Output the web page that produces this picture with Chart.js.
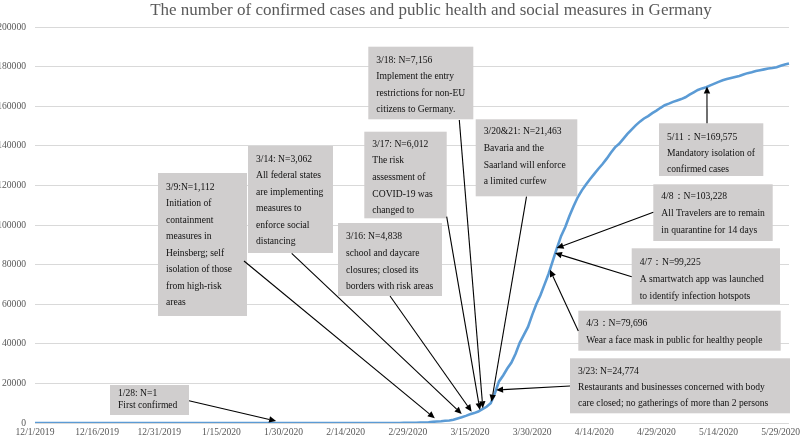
<!DOCTYPE html>
<html>
<head>
<meta charset="utf-8">
<script src="https://cdn.jsdelivr.net/npm/chart.js@4.4.1/dist/chart.umd.min.js"></script>
<style>
html,body{margin:0;padding:0;background:#fff;}
#wrap{width:800px;height:439px;position:relative;}
</style>
</head>
<body>
<div id="wrap"><canvas id="c" width="800" height="439"></canvas></div>
<script>
// ---- data ----
const chartTitle = "The number of confirmed cases and public health and social measures in Germany";
const casesDec = [0,0,0,0,0,0,0,0,0,0,0,0,0,0,0,0,0,0,0,0,0,0,0,0,0,0,0,0,0,0,0];
const casesJan = [0,0,0,0,0,0,0,0,0,0,0,0,0,0,0,0,0,0,0,0,0,0,0,0,0,0,0,1,4,4,5];
const casesFeb = [8,10,12,12,12,12,13,13,14,14,16,16,16,16,16,16,16,16,16,16,16,16,16,16,16,18,26,48,79];
const casesMar = [130,159,196,262,400,600,750,900,1112,1300,1600,2300,2900,3600,4400,5000,5800,7000,8200,10000,15000,21000,24000,27500,30500,35000,40500,44500,48500,54500,60000];
const casesApr = [64500,70000,75500,82000,88400,94500,99000,104500,109500,114000,117500,120500,123200,125800,128400,130800,133500,136500,139200,141000,143500,146000,148200,150300,152200,153800,155000,156500,157800,159200];
const casesMay = [160500,161300,162200,162900,163600,164500,165800,167000,168200,169000,169600,170500,171400,172300,173100,173700,174300,174800,175300,176000,176700,177200,177800,178200,178600,179000,179300,179700,180400,181100,181600];
const monthDays = [[12,2019,31],[1,2020,31],[2,2020,29],[3,2020,31],[4,2020,30],[5,2020,31]];
const categories = [];
monthDays.forEach(([m,y,n])=>{for(let d=1;d<=n;d++)categories.push(m+"/"+d+"/"+y);});
const cases = [].concat(casesDec,casesJan,casesFeb,casesMar,casesApr,casesMay);
const yTicks = [0,20000,40000,60000,80000,100000,120000,140000,160000,180000,200000];
const xLabelEvery = 15;

// annotation texts and the (date index, value) each arrow points to
const noteTexts = [
  ["1/28: N=1","First confirmed"],
  ["3/9:N=1,112","Initiation of","containment","measures in","Heinsberg; self","isolation of those","from high-risk","areas"],
  ["3/14: N=3,062","All federal states","are implementing","measures to","enforce social","distancing"],
  ["3/16: N=4,838","school and daycare","closures; closed its","borders with risk areas"],
  ["3/17: N=6,012","The risk","assessment of","COVID-19 was","changed to"],
  ["3/18: N=7,156","Implement the entry","restrictions for non-EU","citizens to Germany."],
  ["3/20&21: N=21,463","Bavaria and the","Saarland will enforce","a limited curfew"],
  ["3/23: N=24,774","Restaurants and businesses concerned with body","care closed; no gatherings of more than 2 persons"],
  ["4/3：N=79,696","Wear a face mask in public for healthy people"],
  ["4/7：N=99,225","A smartwatch app was launched","to identify infection hotspots"],
  ["4/8：N=103,228","All Travelers are to remain","in quarantine for 14 days"],
  ["5/11：N=169,575","Mandatory isolation of","confirmed cases"]
];
const noteTipDay   = [58.2, 96.5, 103.0, 105.4, 107.4, 108.1, 110.2, 111.3, 124.3, 125.5, 125.9, 162.2];
const noteTipValue = [1000, 2377, 4551, 5714, 6574, 7434, 10771, 16688, 77372, 85818, 88347, 169915];

// ---- layout of annotation boxes (pixels) ----
const noteLayout = [
  {box:[110,385,79,30],    y0:393.3, lh:11.7, tail:[189,400.7]},
  {box:[158,173,89,143],   y0:187.3, lh:16.5, tail:[244,261]},
  {box:[248,146,85,107],   y0:159.3, lh:16.5, tail:[291.7,253.3]},
  {box:[338,223,104,73],   y0:236.7, lh:16.7, tail:[390,296]},
  {box:[364.3,131.7,82.4,86.6], y0:144.3, lh:16.6, tail:[446.7,216.7]},
  {box:[368.3,46.7,105,72.6],   y0:60,    lh:16.5, tail:[459.3,120]},
  {box:[475.7,119.3,101.6,77],  y0:131.7, lh:16.7, tail:[526.5,196.7]},
  {box:[570,358.3,220,55],      y0:371,   lh:16.3, tail:[570,386]},
  {box:[578.3,310.7,202.4,40],  y0:323.3, lh:16.7, tail:[578.3,331]},
  {box:[631.7,248.3,148.3,55.7],y0:262.7, lh:17,   tail:[631.7,276.7]},
  {box:[653.3,184.3,119.4,56.7],y0:196.7, lh:17,   tail:[653.3,212.3]},
  {box:[659,123.3,104.3,52.7],  y0:137.3, lh:16,   tail:[707,123.3]}
];

const FONT = "'Liberation Serif','Times New Roman',serif";

const notesPlugin = {
  id:'notes',
  afterDatasetsDraw(chart){
    const ctx = chart.ctx;
    const xs = chart.scales.x, ys = chart.scales.y;
    ctx.save();
    // boxes + text
    noteLayout.forEach((L,i)=>{
      const [bx,by,bw,bh] = L.box;
      ctx.fillStyle = '#d0cece';
      ctx.fillRect(bx,by,bw,bh);
      ctx.fillStyle = '#111';
      ctx.font = "9.6px " + FONT;
      ctx.textBaseline = 'middle';
      ctx.textAlign = 'left';
      noteTexts[i].forEach((t,j)=>ctx.fillText(t, bx+8, L.y0 + j*L.lh));
    });
    // arrows
    noteLayout.forEach((L,i)=>{
      const [tx,ty] = L.tail;
      const px = xs.getPixelForValue(noteTipDay[i]);
      const py = ys.getPixelForValue(noteTipValue[i]);
      const ang = Math.atan2(py-ty, px-tx);
      const hl = 7, hw = 3.2;
      const bxp = px - hl*Math.cos(ang), byp = py - hl*Math.sin(ang);
      ctx.strokeStyle = '#000';
      ctx.lineWidth = 1.1;
      ctx.beginPath(); ctx.moveTo(tx,ty); ctx.lineTo(bxp,byp); ctx.stroke();
      ctx.fillStyle = '#000';
      ctx.beginPath();
      ctx.moveTo(px,py);
      ctx.lineTo(bxp + hw*Math.sin(ang), byp - hw*Math.cos(ang));
      ctx.lineTo(bxp - hw*Math.sin(ang), byp + hw*Math.cos(ang));
      ctx.closePath(); ctx.fill();
    });
    ctx.restore();
  },
  afterDraw(chart){
    const ctx = chart.ctx;
    ctx.save();
    ctx.fillStyle = '#595959';
    ctx.font = "17px " + FONT;
    ctx.textAlign = 'center';
    ctx.textBaseline = 'middle';
    ctx.fillText(chartTitle, 431, 11);
    ctx.restore();
  }
};

Chart.defaults.font.family = FONT;

new Chart(document.getElementById('c'), {
  type:'line',
  data:{
    labels: categories,
    datasets:[{
      data: cases,
      borderColor:'#5b9bd5',
      borderWidth:2.6,
      pointRadius:0,
      tension:0,
      fill:false
    }]
  },
  options:{
    responsive:false,
    animation:false,
    devicePixelRatio:1,
    layout:{padding:{top:27,right:11,left:0,bottom:0}},
    plugins:{legend:{display:false},tooltip:{enabled:false},title:{display:false}},
    scales:{
      x:{
        type:'category',
        offset:false,
        grid:{display:false,drawTicks:false},
        border:{display:false},
        ticks:{
          autoSkip:false,maxRotation:0,minRotation:0,padding:4,
          color:'#595959',font:{size:9.6,family:FONT},
          callback:function(v,i){ return i % xLabelEvery === 0 ? categories[i] : ''; }
        },
        afterFit(s){ s.height = 16; }
      },
      y:{
        min:0,max:200000,
        afterBuildTicks(s){ s.ticks = yTicks.map(v=>({value:v})); },
        grid:{color:'#d9d9d9',lineWidth:1,drawTicks:false},
        border:{display:false},
        ticks:{
          padding:9,color:'#595959',font:{size:9.6,family:FONT},
          callback:v=>String(v)
        },
        afterFit(s){ s.width = 35; }
      }
    }
  },
  plugins:[notesPlugin]
});
</script>
</body>
</html>
